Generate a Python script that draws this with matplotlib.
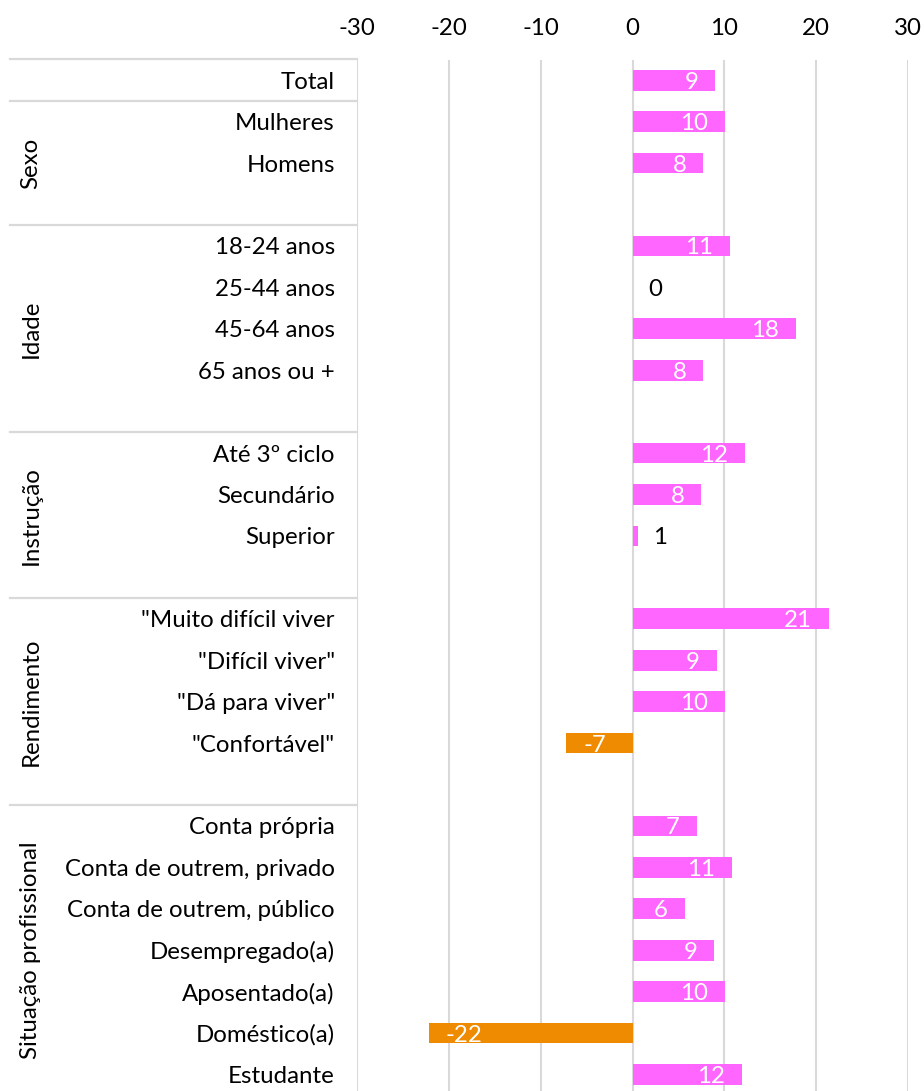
import numpy as np
import matplotlib.pyplot as plt
import matplotlib.transforms as mtrans

plt.rcParams['font.family'] = ['Lato', 'DejaVu Sans']
plt.rcParams['axes.unicode_minus'] = False

categories = ["Total",
              "Mulheres", "Homens", "",
              "18-24 anos", "25-44 anos", "45-64 anos", "65 anos ou +", "",
              "Até 3º ciclo", "Secundário", "Superior", "",
              "\"Muito difícil viver", "\"Difícil viver\"", "\"Dá para viver\"", "\"Confortável\"", "",
              "Conta própria", "Conta de outrem, privado", "Conta de outrem, público",
              "Desempregado(a)", "Aposentado(a)", "Doméstico(a)", "Estudante"]
values = [9.0,
          10.1, 7.7, None,
          10.6, 0.1, 17.8, 7.7, None,
          12.2, 7.5, 0.6, None,
          21.4, 9.2, 10.1, -7.2, None,
          7.0, 10.8, 5.7, 8.9, 10.1, -22.2, 11.9]
groups = ["Sexo", "Idade", "Instrução", "Rendimento", "Situação profissional"]
group_spans = [(0.5, 3.5), (3.5, 8.5), (8.5, 12.5), (12.5, 17.5), (17.5, 24.5)]
separators = [-0.5, 0.5, 3.5, 8.5, 12.5, 17.5]

pink = '#ff66ff'
orange = '#ef8b00'
grey = '#d9d9d9'
fs = 17.3

fig = plt.figure(figsize=(9.24, 10.91), dpi=100)
ax = fig.add_axes([357 / 924, 0, 551 / 924, 1 - 59.5 / 1091])

pos = [i for i, v in enumerate(values) if v is not None]
vals = [values[i] for i in pos]
cols = [pink if v >= 0 else orange for v in vals]
ax.barh(pos, vals, height=0.5, color=cols, zorder=3)

for p, v in zip(pos, vals):
    lab = str(int(round(v)))
    if abs(v) < 3:
        ax.annotate(lab, (v, p), xytext=(11, -1.5), textcoords='offset points',
                    ha='left', va='center', fontsize=fs, color='black', zorder=4)
    elif v > 0:
        ax.annotate(lab, (v, p), xytext=(-12.2, -1.5), textcoords='offset points',
                    ha='right', va='center', fontsize=fs, color='white', zorder=4)
    else:
        ax.annotate(lab, (v, p), xytext=(12.2, -1.5), textcoords='offset points',
                    ha='left', va='center', fontsize=fs, color='white', zorder=4)

ax.set_xlim(-30, 30)
ax.set_ylim(24.4, -0.5)
ax.set_xticks(np.arange(-30, 31, 10))
ax.xaxis.tick_top()
ax.tick_params(axis='x', length=0, pad=15, labelsize=fs)
ax.grid(axis='x', color=grey, lw=1.5, zorder=0)
ax.set_yticks(pos)
ax.set_yticklabels([categories[i] for i in pos], fontsize=fs)
ax.tick_params(axis='y', length=0, pad=16)
for s in ax.spines.values():
    s.set_visible(False)

trans = mtrans.blended_transform_factory(ax.transAxes, ax.transData)
x_left = (10 - 357) / 551
for y in separators:
    ax.plot([x_left, 0], [y, y], color=grey, lw=1.6, transform=trans, clip_on=False)

for g, (a, b) in zip(groups, group_spans):
    ax.text((31 - 357) / 551, (a + b) / 2, g, rotation=90, ha='center', va='center',
            fontsize=fs, transform=trans)

plt.savefig('out.png', dpi=100)
